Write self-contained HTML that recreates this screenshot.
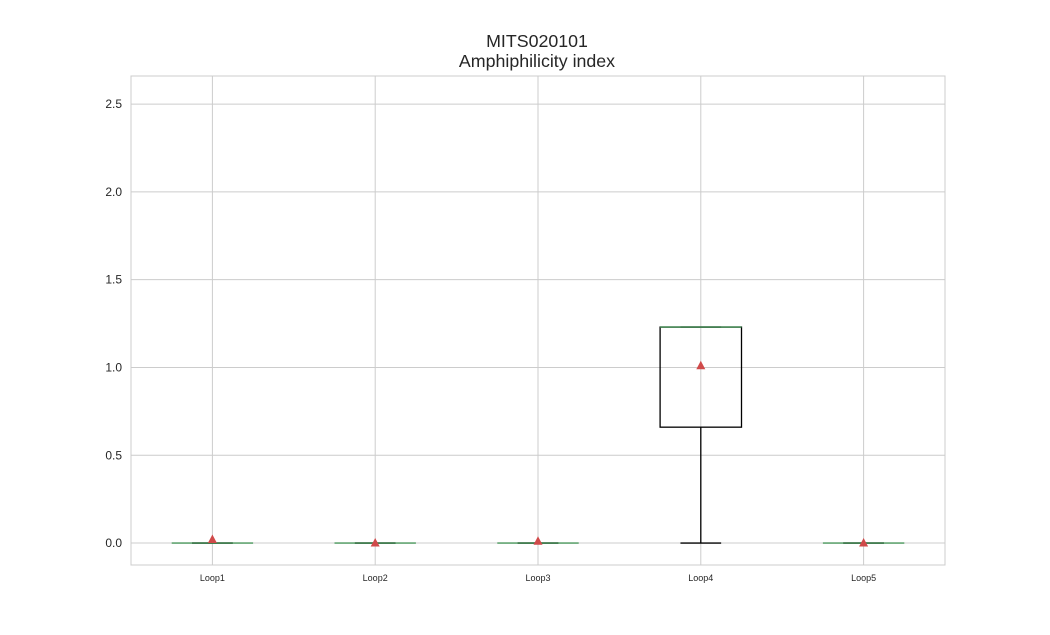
<!DOCTYPE html>
<html><head><meta charset="utf-8"><style>
body{margin:0;background:#fff;}
svg{display:block;font-family:"Liberation Sans",sans-serif;}
</style></head><body>
<svg id="chart" width="1050" height="635">
<text x="537" y="47" text-anchor="middle" font-size="17.8" fill="#262626">MITS020101</text>
<text x="537" y="67" text-anchor="middle" font-size="17.8" fill="#262626">Amphiphilicity index</text>
<g id="grid"></g>
<g id="marks"></g>
<rect x="131" y="76" width="814" height="489" fill="none" stroke="#cccccc" stroke-width="1"/>
</svg>
<script>
const categories = ["Loop1","Loop2","Loop3","Loop4","Loop5"];
const whiskLow = [0,0,0,0,0];
const q1 = [0,0,0,0.66,0];
const medians = [0,0,0,1.23,0];
const q3 = [0,0,0,1.23,0];
const whiskHigh = [0,0,0,1.23,0];
const means = [0.02,0.0,0.01,1.01,0.0];
const yTicks = [0.0,0.5,1.0,1.5,2.0,2.5];
const yTickLabels = ["0.0","0.5","1.0","1.5","2.0","2.5"];

const NS="http://www.w3.org/2000/svg";
const L=131,R=945,T=76,B=565, yMin=-0.125, yMax=2.66;
const y=v=>B-(v-yMin)/(yMax-yMin)*(B-T);
const step=(R-L)/categories.length;
const x=i=>L+step*(i+0.5);
const bw=step*0.5;
function mk(tag,attrs,parent){const e=document.createElementNS(NS,tag);for(const k in attrs)e.setAttribute(k,attrs[k]);parent.appendChild(e);return e;}
const grid=document.getElementById('grid'), marks=document.getElementById('marks');
yTicks.forEach((t,i)=>{
  const ln=mk('line',{x1:L,x2:R,y1:y(t),y2:y(t),stroke:'#cccccc','stroke-width':1},grid);
  
  
  const tx=mk('text',{x:L-9,y:y(t)+4,'text-anchor':'end','font-size':12,fill:'#262626'},grid);
  tx.textContent=yTickLabels[i];
  
  
});
categories.forEach((c,i)=>{
  const cx=x(i);
  const g=mk('line',{x1:cx,x2:cx,y1:T,y2:B,stroke:'#cccccc','stroke-width':1},grid);
  
  
  const tx=mk('text',{x:cx,y:B+16,'text-anchor':'middle','font-size':9,fill:'#262626'},grid);
  tx.textContent=c;
  
  
  const grp=mk('g',{},marks);
  
  
  mk('line',{x1:cx,x2:cx,y1:y(q1[i]),y2:y(whiskLow[i]),stroke:'#000','stroke-width':1.3},grp);
  mk('line',{x1:cx,x2:cx,y1:y(q3[i]),y2:y(whiskHigh[i]),stroke:'#000','stroke-width':1.3},grp);
  mk('line',{x1:cx-bw/4,x2:cx+bw/4,y1:y(whiskLow[i]),y2:y(whiskLow[i]),stroke:'#000','stroke-width':1.3},grp);
  mk('line',{x1:cx-bw/4,x2:cx+bw/4,y1:y(whiskHigh[i]),y2:y(whiskHigh[i]),stroke:'#000','stroke-width':1.3},grp);
  mk('rect',{x:cx-bw/2,y:y(q3[i]),width:bw,height:Math.max(0,y(q1[i])-y(q3[i])),fill:'none',stroke:'#000','stroke-width':1.3},grp);
  mk('line',{x1:cx-bw/2,x2:cx+bw/2,y1:y(medians[i]),y2:y(medians[i]),stroke:'#4c9a5e','stroke-width':1.6,'stroke-opacity':0.85},grp);
  const ty=y(means[i]);
  mk('polygon',{points:`${cx},${ty-5} ${cx-4.5},${ty+3.5} ${cx+4.5},${ty+3.5}`,fill:'#d04a4a'},grp);
});
</script>
</body></html>
